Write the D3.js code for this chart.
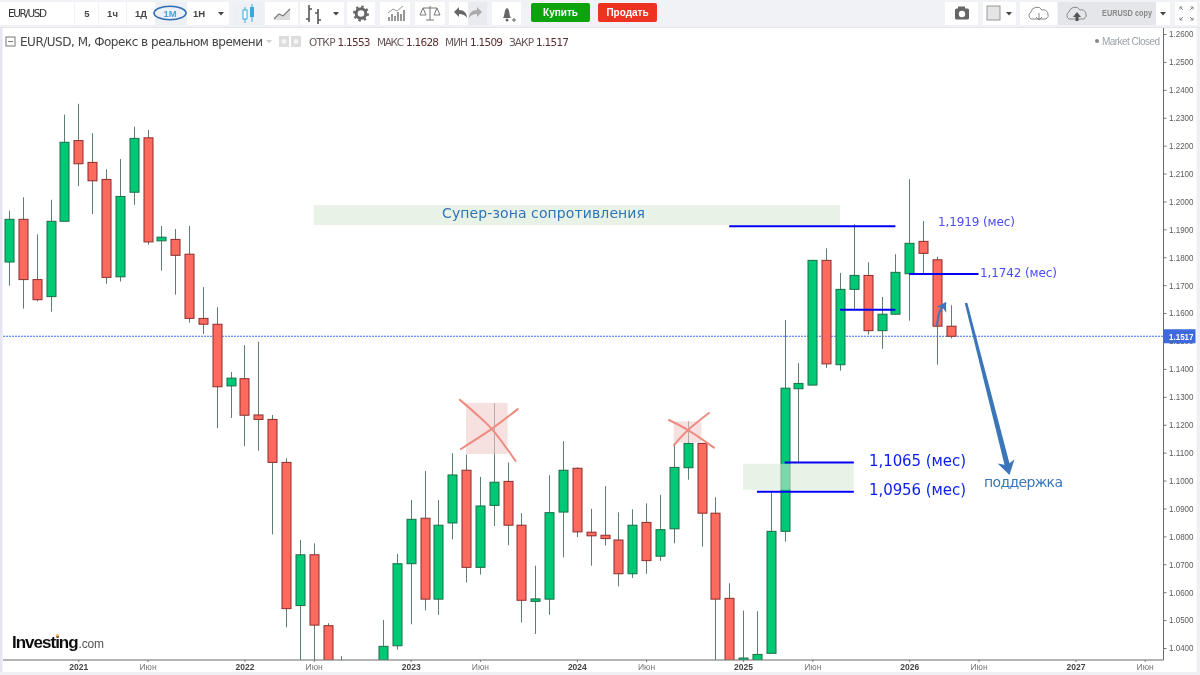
<!DOCTYPE html>
<html><head><meta charset="utf-8">
<script src="https://cdnjs.cloudflare.com/ajax/libs/d3/7.8.5/d3.min.js"></script>
<style>html,body{margin:0;padding:0;background:#fff;overflow:hidden}svg{display:block;font-family:"Liberation Sans",Arial,sans-serif}</style>
</head><body><svg id="c" width="1200" height="675"></svg>
<script>
const opens=[1.1783,1.1936,1.1720,1.1659,1.1929,1.2218,1.2140,1.2079,1.1730,1.2033,1.2228,1.1859,1.1864,1.1811,1.1581,1.1560,1.1339,1.1365,1.1235,1.1219,1.1065,1.0552,1.0734,1.0480,1.0200,1.0060,0.9800,1.0150,1.0408,1.0702,1.0865,1.0575,1.0848,1.1037,1.0689,1.0911,1.0997,1.0840,1.0567,1.0575,1.0887,1.1044,1.0815,1.0804,1.0787,1.0666,1.0850,1.0729,1.0827,1.1046,1.1133,1.0883,1.0578,1.0330,1.0330,1.0381,1.0818,1.1329,1.1342,1.1789,1.1415,1.1685,1.1735,1.1537,1.1596,1.1741,1.1857,1.1791,1.1553];
const closes=[1.1936,1.1720,1.1648,1.1929,1.2212,1.2135,1.2074,1.1728,1.2018,1.2226,1.1855,1.1872,1.1807,1.1581,1.1560,1.1336,1.1367,1.1234,1.1219,1.1065,1.0541,1.0734,1.0482,1.0200,1.0060,0.9800,1.0150,1.0406,1.0702,1.0861,1.0575,1.0840,1.1020,1.0689,1.0909,1.0994,1.0840,1.0571,1.0576,1.0885,1.1037,1.0816,1.0802,1.0792,1.0666,1.0840,1.0713,1.0824,1.1047,1.1133,1.0883,1.0575,1.0320,1.0364,1.0377,1.0818,1.1331,1.1348,1.1789,1.1418,1.1685,1.1735,1.1537,1.1596,1.1746,1.1850,1.1814,1.1553,1.1517];
const highs=[1.1967,1.2015,1.1882,1.2006,1.2311,1.2350,1.2245,1.2115,1.2152,1.2268,1.2256,1.1912,1.1901,1.1912,1.1693,1.1621,1.1389,1.1485,1.1498,1.1235,1.1080,1.0787,1.0775,1.0489,1.0371,1.0200,1.0300,1.0500,1.0737,1.0930,1.1034,1.0930,1.1098,1.1093,1.1013,1.1277,1.1065,1.0883,1.0695,1.1019,1.1141,1.1047,1.0899,1.0980,1.0886,1.0897,1.0918,1.0949,1.1133,1.1212,1.1135,1.0940,1.0632,1.0534,1.0532,1.0959,1.1575,1.1421,1.1789,1.1832,1.1744,1.1918,1.1782,1.1658,1.1811,1.2080,1.1930,1.1802,1.1628];
const lows=[1.1698,1.1616,1.1642,1.1605,1.1929,1.2055,1.1955,1.1705,1.1713,1.1988,1.1845,1.1752,1.1666,1.1566,1.1525,1.1187,1.1224,1.1123,1.1107,1.0807,1.0474,1.0350,1.0350,1.0120,0.9950,0.9660,0.9730,1.0100,1.0394,1.0485,1.0535,1.0519,1.0789,1.0635,1.0663,1.0837,1.0768,1.0491,1.0450,1.0519,1.0725,1.0797,1.0695,1.0767,1.0621,1.0651,1.0666,1.0712,1.0775,1.1003,1.0763,1.0330,1.0220,1.0200,1.0280,1.0381,1.0781,1.1065,1.1342,1.1403,1.1394,1.1611,1.1523,1.1472,1.1596,1.1573,1.1743,1.1415,1.1509];
const priceTicks=[1.26,1.25,1.24,1.23,1.22,1.21,1.20,1.19,1.18,1.17,1.16,1.15,1.14,1.13,1.12,1.11,1.10,1.09,1.08,1.07,1.06,1.05,1.04];
const timeTicks=[5,10,17,22,29,34,41,46,53,58,65,70,77,82];
const timeLabels=["2021","Июн","2022","Июн","2023","Июн","2024","Июн","2025","Июн","2026","Июн","2027","Июн"];
const lastClose=1.1517;
const timeframes=["5","1ч","1Д","1М","1Н"];
const ohlcLabels=["ОТКР","МАКС","МИН","ЗАКР"];
const ohlcValues=["1.1553","1.1628","1.1509","1.1517"];
const levelLines=[[52,64,1.1911],[65,70,1.1740],[60,64,1.1612],[56,61,1.1065],[54,61,1.0960]];
const zones=[[22,60,1.1987,1.1916],[53,61,1.1060,1.0967]];
const crossBoxes=[[33,36,1.1278,1.1095],[48,50,1.1212,1.1136]];
const crossStrokes=[
 [[32.56,1.1289],[33.65,1.1242],[34.85,1.1185],[36.58,1.1070]],
 [[32.63,1.1113],[34.85,1.1185],[36.73,1.1256]],
 [[47.65,1.1217],[49.03,1.1181],[50.9,1.1118]],
 [[48.01,1.1127],[49.03,1.1181],[50.54,1.1242]]];
const bigArrow=[[69.1,1.1636],[72.13,1.1045]];
const smallArrow=[[67,1.1553],[67.2,1.1605],[67.65,1.1636]];

const svg=d3.select("#c");
const x=d3.scaleLinear().domain([0,82]).range([9,9+13.85*82]);
const y=d3.scaleLinear().domain([1.26,1.04]).range([34,648]);
const PR=1163.5,PB=660,PT=27;

// frame
svg.append("rect").attr("width",1200).attr("height",675).attr("fill","#fff");
svg.append("rect").attr("width",2.5).attr("height",675).attr("fill","#e6e6f2");
svg.append("rect").attr("x",1196.5).attr("width",3.5).attr("height",675).attr("fill","#eef0f3");
svg.append("rect").attr("y",672).attr("width",1200).attr("height",3).attr("fill","#eef0f3");
svg.append("defs").append("clipPath").attr("id","plot").append("rect").attr("x",3).attr("y",PT).attr("width",PR-3).attr("height",PB-PT);
const soft=svg.select("defs").append("filter").attr("id","soft");soft.append("feGaussianBlur").attr("stdDeviation",0.35);

const root=svg.append("g").attr("filter","url(#soft)");
const plot=root.append("g").attr("clip-path","url(#plot)");

// price line
plot.append("line").attr("x1",3).attr("x2",PR).attr("y1",y(lastClose)).attr("y2",y(lastClose)).attr("stroke","#3f6df2").attr("stroke-dasharray","2 1").attr("stroke-width",1);

// candles
const idx=d3.range(opens.length);
const g=plot.append("g").selectAll("g").data(idx).join("g");
g.append("line").attr("x1",i=>Math.round(x(i))+.5).attr("x2",i=>Math.round(x(i))+.5).attr("y1",i=>y(highs[i])).attr("y2",i=>y(lows[i])).attr("stroke","#5d7f6d").attr("stroke-width",1);
g.append("rect").attr("x",i=>Math.round(x(i))-4).attr("width",9)
 .attr("y",i=>y(Math.max(opens[i],closes[i])))
 .attr("height",i=>Math.max(1.5,Math.abs(y(opens[i])-y(closes[i]))))
 .attr("fill",i=>closes[i]>=opens[i]?"#00c975":"#ff6a5f")
 .attr("stroke",i=>closes[i]>=opens[i]?"#1c6e49":"#8a2f2f").attr("stroke-width",1);

// zones
plot.selectAll(".zone").data(zones).join("rect").attr("x",d=>x(d[0])).attr("width",d=>x(d[1])-x(d[0]))
 .attr("y",d=>y(d[2])).attr("height",d=>y(d[3])-y(d[2])).attr("fill","#d8e8d2").attr("opacity",.56);
plot.selectAll(".box").data(crossBoxes).join("rect").attr("x",d=>x(d[0])).attr("width",d=>x(d[1])-x(d[0]))
 .attr("y",d=>y(d[2])).attr("height",d=>y(d[3])-y(d[2])).attr("fill","#f0cccc").attr("opacity",.6);
const pl=d3.line().x(d=>x(d[0])).y(d=>y(d[1])).curve(d3.curveCatmullRom);
plot.selectAll(".cross").data(crossStrokes).join("path").attr("d",pl).attr("fill","none").attr("stroke","#ee8c82").attr("stroke-width",2).attr("stroke-linecap","round");

// levels
plot.selectAll(".lvl").data(levelLines).join("line").attr("x1",d=>x(d[0])).attr("x2",d=>x(d[1])).attr("y1",d=>y(d[2])).attr("y2",d=>y(d[2])).attr("stroke","#0000f0").attr("stroke-width",2);

// arrows
const AC="#3a76b8";
function head(tipX,tipY,ang,s){const a=ang*Math.PI/180,c=Math.cos(a),sn=Math.sin(a);
 const P=(u,v)=>[tipX+u*c-v*sn,tipY+u*sn+v*c];
 return "M"+[P(0,0),P(-s,-s*.62),P(-s*.72,0),P(-s,s*.62)].map(p=>p.join(",")).join("L")+"Z";}
const bx0=x(bigArrow[0][0]),by0=y(bigArrow[0][1]),bx1=x(bigArrow[1][0]),by1=y(bigArrow[1][1]);
const bAng=Math.atan2(by1-by0,bx1-bx0),nx=-Math.sin(bAng),ny=Math.cos(bAng);
plot.append("path").attr("d",`M${bx0+nx*1.3},${by0+ny*1.3}L${bx1+nx*2.6},${by1+ny*2.6}L${bx1-nx*2.6},${by1-ny*2.6}L${bx0-nx*1.3},${by0-ny*1.3}Z`).attr("fill",AC);
plot.append("path").attr("d",head(bx1+1.5,by1+7,bAng*180/Math.PI,14)).attr("fill",AC);
plot.append("path").attr("d",d3.line().x(d=>x(d[0])).y(d=>y(d[1])).curve(d3.curveCatmullRom)(smallArrow)).attr("stroke",AC).attr("stroke-width",2).attr("fill","none");
plot.append("path").attr("d",head(x(smallArrow[2][0]),y(smallArrow[2][1])-1,-60,9)).attr("fill",AC);

// axes
const yAxis=d3.axisRight(y).tickValues(priceTicks).tickFormat(d3.format(".4f")).tickSize(3).tickPadding(2.5);
const ya=root.append("g").attr("transform",`translate(${PR},0)`).call(yAxis);
ya.select(".domain").attr("d",`M0,${PT}V${PB}`).attr("stroke","#6a6a6a");
ya.selectAll(".tick line").attr("stroke","#777");
ya.selectAll("text").attr("font-size",9).attr("textLength",24.5).attr("lengthAdjust","spacingAndGlyphs").attr("fill","#5c5c5c").attr("font-family","Liberation Sans");
const xAxis=d3.axisBottom(x).tickValues(timeTicks).tickFormat((d,i)=>timeLabels[i]).tickSize(2).tickPadding(2);
const xa=root.append("g").attr("transform",`translate(0,${PB})`).call(xAxis);
xa.select(".domain").attr("d",`M3,0H${PR}`).attr("stroke","#6a6a6a");
xa.selectAll(".tick line").attr("stroke","#777");
xa.selectAll("text").attr("font-size",8.5).attr("font-family","Liberation Sans").attr("fill",(d,i)=>i%2?"#777":"#444").attr("font-weight",(d,i)=>i%2?400:700);

// last price tag
root.append("rect").attr("x",PR).attr("y",y(lastClose)-7).attr("width",32).attr("height",14).attr("fill","#3f69de");
root.append("text").attr("x",PR+5.5).attr("y",y(lastClose)+3.3).attr("font-size",9).attr("font-weight",700).attr("fill","#fff").attr("textLength",24.5).attr("lengthAdjust","spacingAndGlyphs").text("1.1517");

// annotation text
const T=(tx,ty,s,size,col,extra={})=>{const t=root.append("text").attr("x",tx).attr("y",ty).attr("font-size",size).attr("fill",col).text(s);Object.entries(extra).forEach(([k,v])=>t.attr(k,v));return t;};
const HF="'DejaVu Sans'";
T(442,218,"Супер-зона сопротивления",14,"#2f74b8",{"font-family":HF,"textLength":203});
T(938,226,"1,1919 (мес)",12,"#4a4cf5",{"font-family":HF,"textLength":77});
T(980,277,"1,1742 (мес)",12,"#4a4cf5",{"font-family":HF,"textLength":77});
T(869,466,"1,1065 (мес)",15,"#0a1eee",{"font-family":HF,"textLength":97});
T(869,495,"1,0956 (мес)",15,"#0a1eee",{"font-family":HF,"textLength":97});
T(984,487,"поддержка",14,"#3a76b8",{"font-family":HF,"textLength":79});

// logo
T(12,648,"Investing",17,"#111",{"font-weight":700,"letter-spacing":"-1"});
T(78.5,648,".com",12,"#555",{"letter-spacing":"-0.2"});
root.append("circle").attr("cx",57.5).attr("cy",635.5).attr("r",1.3).attr("fill","#f3a33a");

// market closed
root.append("circle").attr("cx",1097).attr("cy",41).attr("r",2).attr("fill","#888");
T(1102,44.5,"Market Closed",10,"#9aa3ab",{"textLength":58});

// legend
root.append("rect").attr("x",6).attr("y",37).attr("width",9).attr("height",9).attr("fill","#fff").attr("stroke","#777");
root.append("line").attr("x1",8).attr("x2",13).attr("y1",41.5).attr("y2",41.5).attr("stroke","#777");
T(20,46,"EUR/USD, M, Форекс в реальном времени",12,"#444",{"font-family":"'DejaVu Sans'","textLength":243});
root.append("path").attr("d","M266,40h6l-3,3z").attr("fill","#ccc");
[279,291].forEach(px=>{root.append("rect").attr("x",px).attr("y",36).attr("width",10).attr("height",11).attr("fill","#ddd");
 root.append("circle").attr("cx",px+5).attr("cy",41.5).attr("r",2.4).attr("fill","#f4f4f4");});
const lx=[309,377,445,509],vx=[337.5,406,470,536];
ohlcLabels.forEach((s,i)=>{T(lx[i],46,s,10.5,"#6b5a5a",{"font-family":"'DejaVu Sans'","textLength":vx[i]-lx[i]-2});
 T(vx[i],46,ohlcValues[i],10.5,"#5c2f2f",{"font-family":"'DejaVu Sans'","textLength":33});});

// toolbar
const tb=root.append("g");
tb.append("rect").attr("width",1200).attr("height",27).attr("fill","#f0f2f5");
tb.append("line").attr("x1",0).attr("x2",1200).attr("y1",27.5).attr("y2",27.5).attr("stroke","#e3e5ea");
const box=(a,b,f="#fff")=>tb.append("rect").attr("x",a).attr("y",2).attr("width",b-a).attr("height",23).attr("fill",f);
const bt=(cx,s,col,size=9.5,w=700)=>tb.append("text").attr("x",cx).attr("y",16.5).attr("text-anchor","middle").attr("font-size",size).attr("font-weight",w).attr("fill",col).text(s);
const drop=(cx)=>tb.append("path").attr("d",`M${cx-3},12h6l-3,3.5z`).attr("fill","#444");
box(0,74);tb.append("text").attr("x",8).attr("y",16.5).attr("font-size",10.5).attr("font-family","'DejaVu Sans'").attr("fill","#333").attr("textLength",39).text("EUR/USD");
[[75,98],[99,126],[127,155],[155,187],[187,212],[212,229]].forEach((b,i)=>box(b[0],b[1],i==3?"#edf0f4":"#fff"));
const tfx=[87,112.5,141,170,199];
timeframes.forEach((s,i)=>bt(tfx[i],s,i==3?"#4aa3d8":"#444"));
drop(221);
tb.append("ellipse").attr("cx",170).attr("cy",13).attr("rx",16).attr("ry",6.8).attr("fill","none").attr("stroke","#2f6db0").attr("stroke-width",1.6);
[[233,264,"#edf0f4"],[265,298],[300,329],[329,344],[347,375],[380,410],[415,445],[449,468],[468,487,"#e9ebee"],[492,521]].forEach(b=>box(b[0],b[1],b[2]||"#fff"));
// candle icon
tb.append("path").attr("d","M245,7v16M252,4v18").attr("stroke","#39a9dc").attr("stroke-width",1);
tb.append("rect").attr("x",243).attr("y",10).attr("width",4).attr("height",9).attr("fill","#fff").attr("stroke","#39a9dc");
tb.append("rect").attr("x",250).attr("y",7).attr("width",4).attr("height",10).attr("fill","#39a9dc");
// area icon
tb.append("path").attr("d","M274,20l5,-5 4,2 7,-7v10h-16z").attr("fill","#ddd");
tb.append("path").attr("d","M274,19l5,-5 4,2 7,-7").attr("fill","none").attr("stroke","#777").attr("stroke-width",1.2);
// bars icon
tb.append("path").attr("d","M309,5v17M306,19h3M309,9h3M318,9v15M315,13h3M318,20h3").attr("fill","none").attr("stroke","#555").attr("stroke-width",1.6);
drop(336);
// gear
tb.append("circle").attr("cx",361).attr("cy",13.5).attr("r",4.8).attr("fill","none").attr("stroke","#666").attr("stroke-width",3);
tb.append("circle").attr("cx",361).attr("cy",13.5).attr("r",7).attr("fill","none").attr("stroke","#666").attr("stroke-width",2).attr("stroke-dasharray","2.5 3");
// indicators
tb.append("path").attr("d","M389,21v-4M392,21v-7M395,21v-5M398,21v-9M401,21v-7M404,21v-11").attr("stroke","#777").attr("stroke-width",1.5);
tb.append("path").attr("d","M388,13l5,-4 4,2 6,-5").attr("fill","none").attr("stroke","#999");
// scales
tb.append("path").attr("d","M430,6v14M426,20h8M423,8h14M423,8l-3,7h6zM437,8l-3,7h6z").attr("fill","none").attr("stroke","#777");
// undo redo
tb.append("path").attr("d","M454,12l5,-5v3c5,0 8,3 8,8c-2,-3 -4,-4 -8,-4v3z").attr("fill","#666");
tb.append("path").attr("d","M482,12l-5,-5v3c-5,0 -8,3 -8,8c2,-3 4,-4 8,-4v3z").attr("fill","#aaa");
// bell
tb.append("path").attr("d","M503,18c2,-2 1,-9 4,-10c3,1 2,8 4,10z").attr("fill","#666");
tb.append("circle").attr("cx",507).attr("cy",20).attr("r",1.5).attr("fill","#666");
tb.append("path").attr("d","M512,20h4M514,18v4").attr("stroke","#666");
// buy/sell
tb.append("rect").attr("x",531).attr("y",3).attr("width",59).attr("height",19).attr("rx",2).attr("fill","#0aa30f");
tb.append("rect").attr("x",598).attr("y",3).attr("width",59).attr("height",19).attr("rx",2).attr("fill","#ee3124");
tb.append("text").attr("x",560.5).attr("y",16).attr("text-anchor","middle").attr("font-size",10).attr("font-weight",700).attr("fill","#fff").text("Купить");
tb.append("text").attr("x",627.5).attr("y",16).attr("text-anchor","middle").attr("font-size",10).attr("font-weight",700).attr("fill","#fff").text("Продать");
// right group
[[945,978],[983,1016],[1020,1057],[1058,1097,"#e4e6e9"],[1097,1156,"#e4e6e9"],[1156,1170],[1175,1197]].forEach(b=>box(b[0],b[1],b[2]||"#fff"));
tb.append("rect").attr("x",955).attr("y",8.5).attr("width",14).attr("height",11).attr("rx",1.5).attr("fill","#666");
tb.append("rect").attr("x",958).attr("y",6.5).attr("width",7).attr("height",3).attr("fill","#666");
tb.append("circle").attr("cx",962).attr("cy",14).attr("r",3.2).attr("fill","#fff");
tb.append("rect").attr("x",987).attr("y",6).attr("width",13).attr("height",14).attr("fill","#e4e4e4").attr("stroke","#999");
drop(1009);
const cloud=(cx,col,fill)=>tb.append("path").attr("d",`M${cx-8},19a4,4 0 0 1 0,-7a6,6 0 0 1 11,-2a5,5 0 0 1 4,9z`).attr("fill",fill).attr("stroke",col);
cloud(1039,"#888","#fff");tb.append("path").attr("d","M1039,13v7M1036,17l3,3 3,-3").attr("fill","none").attr("stroke","#888");
cloud(1077,"#888","#e4e6e9");tb.append("path").attr("d","M1077,12l-4,5h2.5v4h3v-4h2.5z").attr("fill","#555");
tb.append("text").attr("x",1102).attr("y",15.5).attr("font-size",8.5).attr("font-weight",700).attr("fill","#888").attr("textLength",50).attr("lengthAdjust","spacingAndGlyphs").text("EURUSD copy");
drop(1163);
tb.append("path").attr("d","M1180,7l3,3M1180,7h2.5M1180,7v2.5M1193,7l-3,3M1193,7h-2.5M1193,7v2.5M1180,20l3,-3M1180,20h2.5M1180,20v-2.5M1193,20l-3,-3M1193,20h-2.5M1193,20v-2.5").attr("stroke","#888").attr("fill","none");
</script></body></html>
